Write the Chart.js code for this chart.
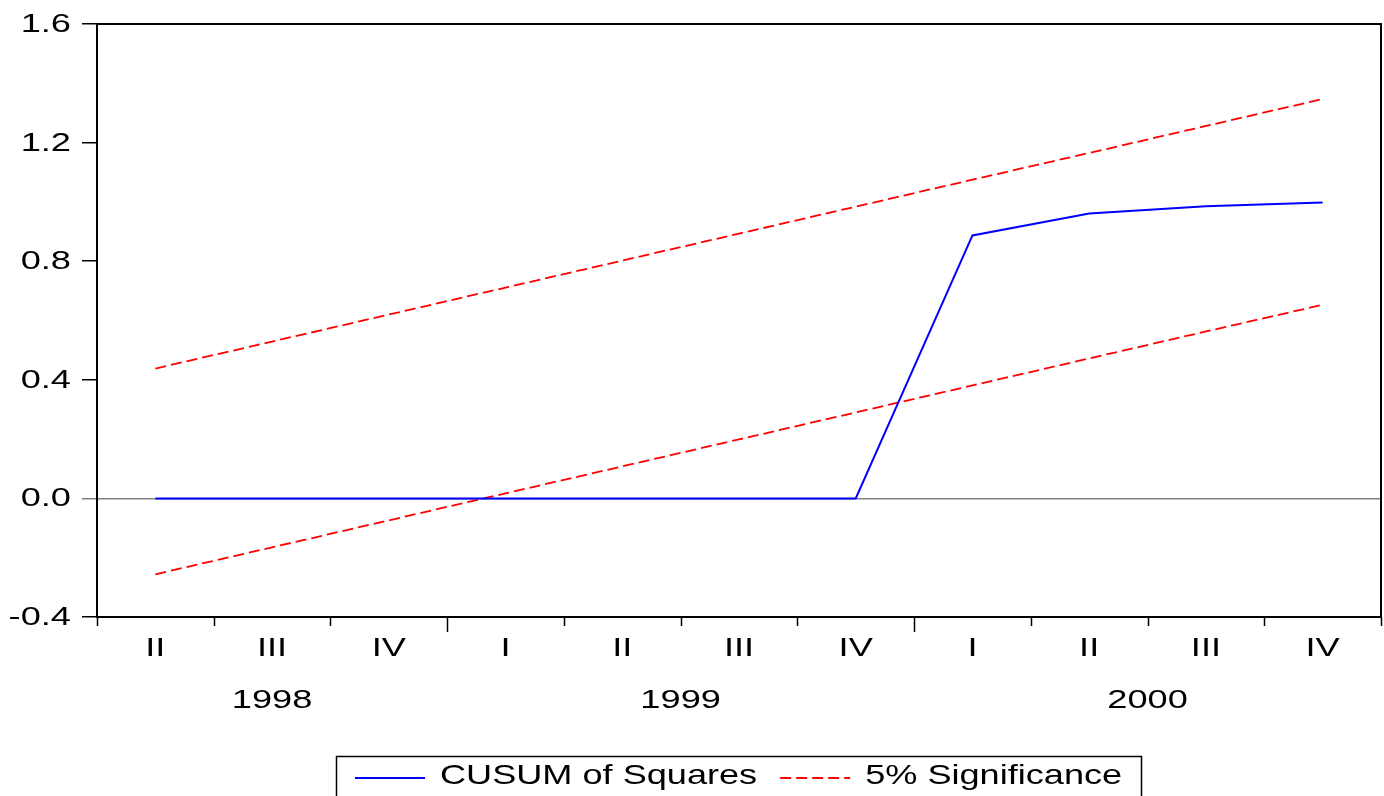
<!DOCTYPE html>
<html>
<head>
<meta charset="utf-8">
<script src="https://cdn.jsdelivr.net/npm/chart.js@4/dist/chart.umd.min.js"></script>
<style>
  body { margin: 0; background: #ffffff; }
  #cusumChart { display: block; }
</style>
</head>
<body>
<canvas id="cusumChart" width="1384" height="796"></canvas>
<script>
// quarters 1998Q2 .. 2000Q4
const quarterLabels = ["II", "III", "IV", "I", "II", "III", "IV", "I", "II", "III", "IV"];
const cusumValues = [0, 0, 0, 0, 0, 0, 0, 0.887, 0.961, 0.985, 0.998];
const upperBound = [0.438, 0.529, 0.62, 0.711, 0.802, 0.893, 0.984, 1.075, 1.165, 1.256, 1.347];
const lowerBound = [-0.256, -0.165, -0.074, 0.017, 0.108, 0.199, 0.29, 0.381, 0.472, 0.563, 0.653];

const yearLabels = ["1998", "1999", "2000"];
const yearFirstIndex = [0, 3, 7];
const yearLastIndex = [2, 6, 10];

const fontFamily = "'Liberation Sans', Arial, sans-serif";
const fontSize = 25.5;
const legendFontSize = 28;

// the original text is drawn wide, so squeeze it out sideways
function wideText(ctx, text, x, y, align, sx) {
  ctx.save();
  ctx.translate(x, y);
  ctx.scale(sx, 1);
  ctx.textAlign = align;
  ctx.textBaseline = "middle";
  ctx.fillText(text, 0, 0);
  ctx.restore();
}

// frame, tick labels, quarter tick marks, year row and boxed legend
const decorPlugin = {
  id: "decorPlugin",
  afterDraw(chart) {
    const ctx = chart.ctx;
    const area = chart.chartArea;
    const xScale = chart.scales.x;
    const yScale = chart.scales.y;
    const step = (area.right - area.left) / quarterLabels.length;

    ctx.save();
    ctx.fillStyle = "#000000";
    ctx.font = fontSize + "px " + fontFamily;

    // y tick labels
    for (const t of yScale.ticks) {
      const y = yScale.getPixelForValue(t.value);
      const txt = Math.abs(t.value) < 1e-9 ? "0.0" : Number(t.value).toFixed(1);
      wideText(ctx, txt, 71, y + 1, "right", 1.42);
    }

    // quarter labels
    for (let i = 0; i < quarterLabels.length; i++) {
      wideText(ctx, quarterLabels[i], xScale.getPixelForValue(i), 649, "center", 1.42);
    }

    // tick marks between quarters, longer where a year starts
    ctx.strokeStyle = "#000000";
    ctx.lineWidth = 1.5;
    for (let i = 0; i <= quarterLabels.length; i++) {
      const x = Math.round(area.left + i * step) + 0.5;
      let len = 9;
      if (i > 0 && yearFirstIndex.includes(i)) {
        len = 15;
      }
      ctx.beginPath();
      ctx.moveTo(x, area.bottom);
      ctx.lineTo(x, area.bottom + len);
      ctx.stroke();
    }

    // year labels
    for (let i = 0; i < yearLabels.length; i++) {
      const x1 = xScale.getPixelForValue(yearFirstIndex[i]);
      const x2 = xScale.getPixelForValue(yearLastIndex[i]);
      wideText(ctx, yearLabels[i], (x1 + x2) / 2, 701, "center", 1.42);
    }

    // frame around plot area
    ctx.lineWidth = 2;
    ctx.strokeStyle = "#000000";
    ctx.strokeRect(area.left, area.top, area.right - area.left, area.bottom - area.top);

    // legend
    const legendStretch = 1.29;
    ctx.font = legendFontSize + "px " + fontFamily;
    const items = [chart.data.datasets[0], chart.data.datasets[1]];
    const lineLen = 70;
    const gapText = 15;
    const gapItem = 23;
    const padSide = 19;
    let total = padSide * 2;
    const widths = items.map((d) => ctx.measureText(d.label).width * legendStretch);
    for (let i = 0; i < items.length; i++) {
      total += lineLen + gapText + widths[i];
      if (i < items.length - 1) total += gapItem;
    }
    const boxLeft = Math.round((area.left + area.right) / 2 - total / 2);
    const boxTop = 756;
    ctx.lineWidth = 1.5;
    ctx.strokeStyle = "#000000";
    ctx.strokeRect(boxLeft + 0.5, boxTop + 0.5, Math.round(total), 60);

    let x = boxLeft + padSide;
    const yLine = 778;
    for (let i = 0; i < items.length; i++) {
      const d = items[i];
      ctx.beginPath();
      ctx.strokeStyle = d.borderColor;
      ctx.lineWidth = d.borderWidth;
      ctx.setLineDash(d.borderDash || []);
      ctx.moveTo(x, yLine);
      ctx.lineTo(x + lineLen, yLine);
      ctx.stroke();
      ctx.setLineDash([]);
      x += lineLen + gapText;
      wideText(ctx, d.label, x, 776, "left", legendStretch);
      x += widths[i] + gapItem;
    }

    ctx.restore();
  },
};

const cusumChart = new Chart(document.getElementById("cusumChart"), {
  type: "line",
  data: {
    labels: quarterLabels,
    datasets: [
      {
        label: "CUSUM of Squares",
        data: cusumValues,
        borderColor: "#0000ff",
        borderWidth: 2,
        pointRadius: 0,
        tension: 0,
        fill: false,
      },
      {
        label: "5% Significance",
        data: upperBound,
        borderColor: "#ff0000",
        borderWidth: 1.8,
        borderDash: [11, 5],
        pointRadius: 0,
        tension: 0,
        fill: false,
      },
      {
        label: "5% Significance",
        data: lowerBound,
        borderColor: "#ff0000",
        borderWidth: 1.8,
        borderDash: [11, 5],
        pointRadius: 0,
        tension: 0,
        fill: false,
      },
    ],
  },
  options: {
    responsive: false,
    animation: false,
    layout: {
      padding: { top: 24, right: 3, left: 0, bottom: 0 },
    },
    plugins: {
      legend: { display: false },
      tooltip: { enabled: false },
    },
    scales: {
      x: {
        type: "category",
        offset: true,
        grid: { display: false, drawTicks: false },
        border: { display: false },
        ticks: { display: false, autoSkip: false },
        afterFit(scale) {
          scale.height = 179;
        },
      },
      y: {
        min: -0.4,
        max: 1.6,
        border: { display: false },
        grid: {
          drawOnChartArea: true,
          tickLength: 15,
          lineWidth: 1.5,
          color: (c) => (c.tick && Math.abs(c.tick.value) < 1e-9 ? "#808080" : "rgba(0,0,0,0)"),
          tickColor: (c) => (c.tick && Math.abs(c.tick.value) < 1e-9 ? "#808080" : "#000000"),
        },
        ticks: { display: false, stepSize: 0.4 },
        afterFit(scale) {
          scale.width = 97;
        },
      },
    },
  },
  plugins: [decorPlugin],
});
</script>
</body>
</html>
